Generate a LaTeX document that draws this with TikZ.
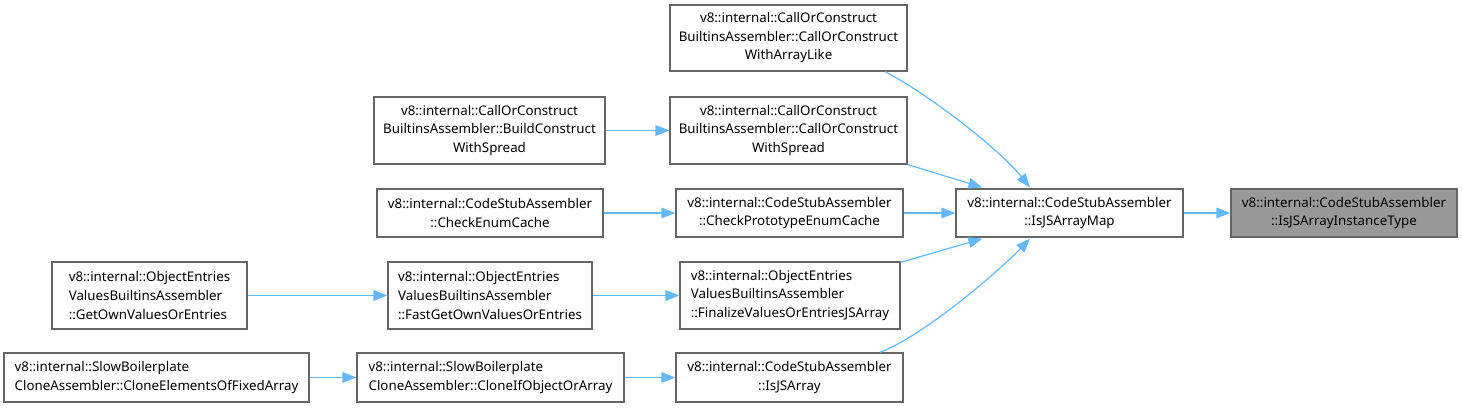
\documentclass[tikz,border=0pt]{standalone}
\usepackage{fontspec}
\setmainfont{Noto Sans}
\usetikzlibrary{arrows.meta,calc}
\definecolor{edgeblue}{HTML}{63B8FF}
\definecolor{boxborder}{HTML}{666666}
\definecolor{hifill}{HTML}{999999}
\tikzset{
  box/.style={draw=boxborder, line width=0.9pt, fill=white, inner sep=0pt,
    font=\fontsize{10pt}{13.9pt}\selectfont, text=black},
  cbox/.style={box, align=center},
  lbox/.style={box, align=left},
  hibox/.style={box, align=center, fill=hifill},
  edge/.style={draw=edgeblue, line width=0.9pt, -{Triangle[length=10.5pt,width=8pt]}},
}
\begin{document}
\begin{tikzpicture}[x=0.75pt,y=-0.75pt]
\useasboundingbox (0,0) rectangle (1462,409);
\node[hibox, minimum width=169.5pt, minimum height=36pt] (target) at (1344,213) {v8::internal::CodeStubAssembler\\::IsJSArrayInstanceType};
\node[cbox, minimum width=170.25pt, minimum height=36pt] (map) at (1069.5,213) {v8::internal::CodeStubAssembler\\::IsJSArrayMap};
\node[cbox, minimum width=177.75pt, minimum height=49.5pt] (arraylike) at (788.5,38) {v8::internal::CallOrConstruct\\BuiltinsAssembler::CallOrConstruct\\WithArrayLike};
\node[cbox, minimum width=177.75pt, minimum height=50.25pt] (spread) at (788.5,130.5) {v8::internal::CallOrConstruct\\BuiltinsAssembler::CallOrConstruct\\WithSpread};
\node[cbox, minimum width=173.25pt, minimum height=50.25pt] (build) at (489.5,130.5) {v8::internal::CallOrConstruct\\BuiltinsAssembler::BuildConstruct\\WithSpread};
\node[cbox, minimum width=170.25pt, minimum height=36pt] (cpec) at (789.5,213) {v8::internal::CodeStubAssembler\\::CheckPrototypeEnumCache};
\node[cbox, minimum width=169.5pt, minimum height=36pt] (cec) at (490,213) {v8::internal::CodeStubAssembler\\::CheckEnumCache};
\node[lbox, minimum width=165pt, minimum height=50.25pt] (fin) at (790,295.5) {v8::internal::ObjectEntries\\ValuesBuiltinsAssembler\\::FinalizeValuesOrEntriesJSArray};
\node[lbox, minimum width=153pt, minimum height=50.25pt] (fast) at (490,295.5) {v8::internal::ObjectEntries\\ValuesBuiltinsAssembler\\::FastGetOwnValuesOrEntries};
\node[lbox, minimum width=146.25pt, minimum height=50.25pt] (getown) at (149.5,295.5) {v8::internal::ObjectEntries\\ValuesBuiltinsAssembler\\::GetOwnValuesOrEntries};
\node[cbox, minimum width=170.25pt, minimum height=36.75pt] (isjs) at (789.5,377.5) {v8::internal::CodeStubAssembler\\::IsJSArray};
\node[lbox, minimum width=200.25pt, minimum height=36.75pt] (clone) at (490.5,377.5) {v8::internal::SlowBoilerplate\\CloneAssembler::CloneIfObjectOrArray};
\node[lbox, minimum width=228.75pt, minimum height=36.75pt] (cloneel) at (156.5,377.5) {v8::internal::SlowBoilerplate\\CloneAssembler::CloneElementsOfFixedArray};
% straight edges
\draw[edge] (map.east) -- (target.west);
\draw[edge] (cpec.east) -- (map.west);
\draw[edge] (cec.east) -- (cpec.west);
\draw[edge] (build.east) -- (spread.west);
\draw[edge] (fast.east) -- (fin.west);
\draw[edge] (getown.east) -- (fast.west);
\draw[edge] (cloneel.east) -- (clone.west);
\draw[edge] (clone.east) -- (isjs.west);
% diagonal edges
\draw[edge] ($(spread.south east)+(0,0)$) -- ($(map.north west)+(27,-1)$);
\draw[edge] ($(fin.north east)+(0,1)$) -- ($(map.south west)+(27,1)$);
\draw[edge] ($(arraylike.south)+(96.5,0)$) .. controls (930,95) and (1000,150) .. ($(map.north)+(-39.5,-1)$);
\draw[edge] ($(isjs.north)+(90.5,0)$) .. controls (925,335) and (1000,270) .. ($(map.south)+(-39.5,1)$);
\end{tikzpicture}
\end{document}
